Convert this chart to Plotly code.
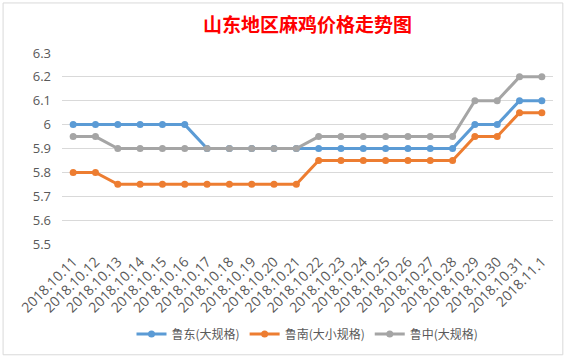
import plotly.graph_objects as go

dates = ["2018.10.11", "2018.10.12", "2018.10.13", "2018.10.14", "2018.10.15", "2018.10.16",
         "2018.10.17", "2018.10.18", "2018.10.19", "2018.10.20", "2018.10.21", "2018.10.22",
         "2018.10.23", "2018.10.24", "2018.10.25", "2018.10.26", "2018.10.27", "2018.10.28",
         "2018.10.29", "2018.10.30", "2018.10.31", "2018.11.1"]
ludong = [6, 6, 6, 6, 6, 6, 5.9, 5.9, 5.9, 5.9, 5.9, 5.9, 5.9, 5.9, 5.9, 5.9, 5.9, 5.9, 6, 6, 6.1, 6.1]
lunan = [5.8, 5.8, 5.75, 5.75, 5.75, 5.75, 5.75, 5.75, 5.75, 5.75, 5.75, 5.85, 5.85, 5.85, 5.85, 5.85,
         5.85, 5.85, 5.95, 5.95, 6.05, 6.05]
luzhong = [5.95, 5.95, 5.9, 5.9, 5.9, 5.9, 5.9, 5.9, 5.9, 5.9, 5.9, 5.95, 5.95, 5.95, 5.95, 5.95,
           5.95, 5.95, 6.1, 6.1, 6.2, 6.2]

series = [("鲁东(大规格)", ludong, "#5B9BD5"),
          ("鲁南(大小规格)", lunan, "#ED7D31"),
          ("鲁中(大规格)", luzhong, "#A5A5A5")]

fig = go.Figure()
for name, vals, color in series:
    fig.add_trace(go.Scatter(x=dates, y=vals, name=name, mode="lines+markers",
                             line=dict(color=color, width=3),
                             marker=dict(color=color, size=7)))

fig.update_layout(
    width=570, height=359,
    margin=dict(l=62, r=17, t=53, b=115, autoexpand=False),
    paper_bgcolor="white", plot_bgcolor="white",
    font=dict(family="Noto Sans CJK SC, Noto Sans, sans-serif", color="#595959", size=12),
    title=dict(text="<b>山东地区麻鸡价格走势图</b>", x=0.5, xanchor="center",
               xref="paper", yref="container", y=1 - 25 / 359, yanchor="middle",
               font=dict(color="#FF0000", size=19, family="Noto Sans CJK SC")),
    showlegend=True,
    legend=dict(orientation="h", x=0.5, xanchor="center", yref="container", y=1 - 334 / 359,
                yanchor="middle", font=dict(size=12, color="#595959")),
    xaxis=dict(type="category", tickangle=-45, showgrid=False, showline=False, ticks="",
               automargin=False, range=[-0.5, len(dates) - 0.5], ticklabelstandoff=6,
               tickfont=dict(size=14, family="Open Sans, Noto Sans, sans-serif")),
    yaxis=dict(range=[5.5, 6.3], dtick=0.1, tick0=5.5, showgrid=True, gridcolor="#D9D9D9",
               gridwidth=1, zeroline=False, showline=False, ticks="", automargin=False,
               ticklabelstandoff=10,
               tickfont=dict(size=13, family="Open Sans, Noto Sans, sans-serif")),
    shapes=[dict(type="rect", xref="paper", yref="paper", x0=-0.12, x1=1.02, y0=-0.58, y1=1.262,
                 line=dict(color="#D9D9D9", width=1))],
)

fig.write_html("out.html", config={"displayModeBar": False},
               post_script="document.body.style.margin='0';document.body.style.padding='0';")
